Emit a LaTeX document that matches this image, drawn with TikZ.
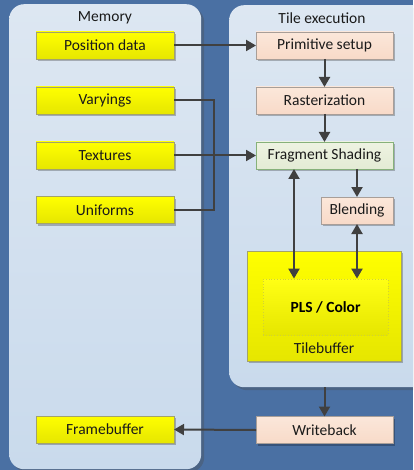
\documentclass[tikz,border=0pt]{standalone}
\usepackage{fontspec}
\setmainfont{Carlito}
\usetikzlibrary{arrows.meta,shadows,calc}
\definecolor{bgblue}{HTML}{4A70A3}
\definecolor{paneltop}{HTML}{DDE7F2}
\definecolor{panelbot}{HTML}{C9DAEC}
\definecolor{yeltop}{HTML}{FFFF00}
\definecolor{yelbot}{HTML}{E6E600}
\definecolor{yelborder}{HTML}{A3A36A}
\definecolor{peachtop}{HTML}{FBE7DA}
\definecolor{peachbot}{HTML}{F8DAC8}
\definecolor{peachborder}{HTML}{A89E98}
\definecolor{greentop}{HTML}{EEF3E2}
\definecolor{greenbot}{HTML}{E3EBD4}
\definecolor{arrowgrey}{HTML}{404040}
\definecolor{textgrey}{HTML}{1A1A1A}
\tikzset{
  panel/.style={draw=none, rounded corners=15pt, top color=paneltop, bottom color=panelbot,
    drop shadow={shadow xshift=3pt, shadow yshift=-3pt, opacity=0.35, fill=black!70}},
  boxbase/.style={minimum height=27pt, inner sep=0pt, outer sep=0pt, line width=0.8pt,
    font=\fontsize{15.5}{18}\selectfont, text=textgrey,
    drop shadow={shadow xshift=2pt, shadow yshift=-2pt, opacity=0.25, fill=black}},
  membox/.style={boxbase, draw=yelborder, top color=yeltop, bottom color=yelbot, minimum width=138pt},
  peachbox/.style={boxbase, draw=peachborder, top color=peachtop, bottom color=peachbot, minimum width=137pt},
  greenbox/.style={boxbase, draw=peachborder!80!green, top color=greentop, bottom color=greenbot, minimum width=137pt},
  conn/.style={draw=arrowgrey, line width=2pt},
  arr/.style={conn, -{Triangle[width=11pt,length=10pt]}},
  darr/.style={conn, {Triangle[width=11pt,length=10pt]}-{Triangle[width=11pt,length=10pt]}},
  title/.style={font=\fontsize{15.5}{18}\selectfont, text=textgrey, inner sep=0pt}
}
\begin{document}
\begin{tikzpicture}[x=1pt,y=-1pt]
\useasboundingbox (0,0) rectangle (413,470);
\clip (0,0) rectangle (413,470);
\fill[bgblue] (0,0) rectangle (413,470);
% panels
\node[panel, anchor=north west, minimum width=192pt, minimum height=465pt] (mem) at (9,4) {};
\node[panel, anchor=north west, minimum width=200pt, minimum height=382pt] (tile) at (229,5) {};
\node[title] (memlabel) at (105,18) {Memory};
\node[title] (tilelabel) at (322,18) {Tile execution};
% memory boxes
\node[membox] (pos) at (105,45.5) {Position data};
\node[membox] (var) at (105,100.5) {Varyings};
\node[membox] (tex) at (105,155.5) {Textures};
\node[membox] (uni) at (105,210) {Uniforms};
\node[membox] (fb) at (105,429.5) {Framebuffer};
% tile boxes
\node[peachbox] (prim) at (324.5,45.5) {Primitive setup};
\node[peachbox] (rast) at (324.5,100.5) {Rasterization};
\node[greenbox] (frag) at (324.5,155.5) {Fragment Shading};
\node[peachbox, minimum width=72pt] (blend) at (357,210.5) {Blending};
\node[boxbase, draw=yelborder, top color=yeltop, bottom color=yelbot, minimum width=154pt, minimum height=110pt] (tb) at (324,306) {};
\node[draw=yelborder!50!yellow, dotted, line width=0.8pt, top color=yeltop!92!white, bottom color=yelbot, minimum width=125pt, minimum height=56pt, inner sep=0pt, font=\fontsize{15.5}{18}\selectfont\bfseries, text=black] (pls) at (325.5,307) {PLS / Color};
\node[title] (tblabel) at (324,348.5) {Tilebuffer};
\node[peachbox] (wb) at (324.5,430) {Writeback};
% connectors
\draw[arr] (pos.east) -- (prim.west);
\draw[arr] (prim.south) -- (rast.north);
\draw[arr] (rast.south) -- (frag.north);
\coordinate (brk) at (214,100.5);
\draw[conn] (var.east) -- (brk) |- (uni.east);
\draw[arr] (tex.east) -- (frag.west);
\draw[arr] (frag.south -| blend.north) -- (blend.north);
\draw[darr] (frag.south -| 294,0) -- (pls.north -| 294,0);
\draw[darr] (blend.south) -- (pls.north -| blend.south);
\draw[arr] (tile.south -| wb.north) -- (wb.north);
\draw[arr] (wb.west) -- (fb.east);
\end{tikzpicture}
\end{document}
